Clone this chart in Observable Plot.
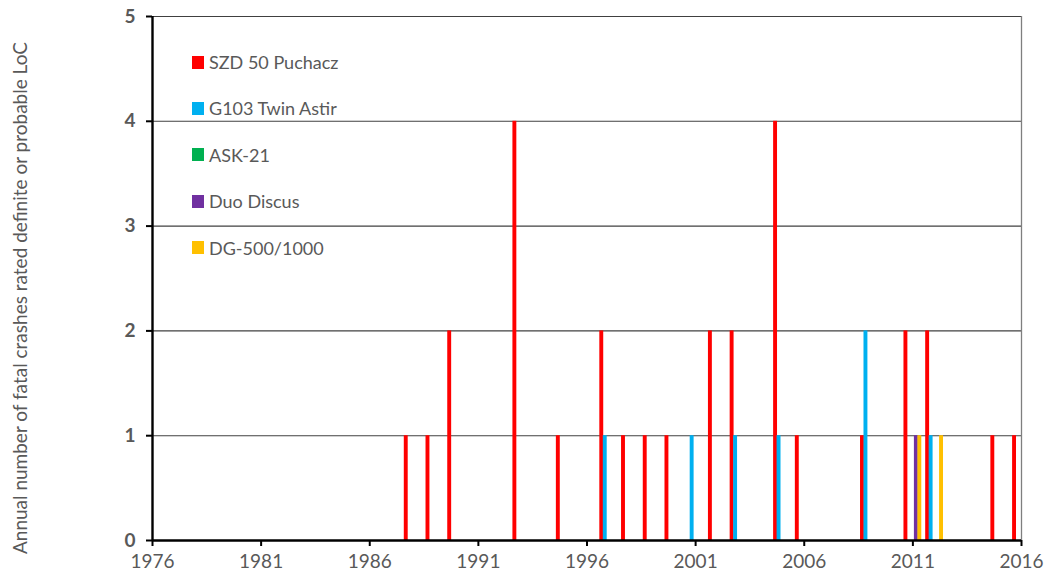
<!DOCTYPE html>
<html>
<head>
<meta charset="utf-8">
<script src="https://cdn.jsdelivr.net/npm/d3@7"></script>
<script src="https://cdn.jsdelivr.net/npm/@observablehq/plot@0.6"></script>
<style>
  html, body { margin: 0; padding: 0; background: #fff; }
  #wrap { position: relative; width: 1045px; height: 579px; font-family: Lato, "Open Sans", sans-serif; }
  #legend { position: absolute; left: 192px; top: 52px; color: #595959; font-size: 18px; }
  .item { position: absolute; left: 0; white-space: nowrap; display: flex; align-items: center; height: 20px; }
  .sw { width: 12px; height: 13px; margin-right: 5px; }
  #ytitle { position: absolute; left: 19px; top: 298px; transform: translate(-50%, -50%) rotate(-90deg); white-space: nowrap; color: #595959; font-size: 19px; }
</style>
</head>
<body>
<div id="wrap">
  <div id="chart"></div>
  <div id="legend"></div>
  <div id="ytitle"></div>
</div>
<script>
const seriesNames = ["SZD 50 Puchacz", "G103 Twin Astir", "ASK-21", "Duo Discus", "DG-500/1000"];
const seriesColors = ["#FF0000", "#00B0F0", "#00B050", "#7030A0", "#FFC000"];

const puchaczYears  = [1988, 1989, 1990, 1993, 1995, 1997, 1998, 1999, 2000, 2002, 2003, 2005, 2006, 2009, 2011, 2012, 2015, 2016];
const puchaczCounts = [1, 1, 2, 4, 1, 2, 1, 1, 1, 2, 2, 4, 1, 1, 2, 2, 1, 1];
const twinAstirYears  = [1997, 2001, 2003, 2005, 2009, 2012];
const twinAstirCounts = [1, 1, 1, 1, 2, 1];
const ask21Years  = [];
const ask21Counts = [];
const duoDiscusYears  = [2011];
const duoDiscusCounts = [1];
const dg500Years  = [2011, 2012];
const dg500Counts = [1, 1];

const xTicks = [1976, 1981, 1986, 1991, 1996, 2001, 2006, 2011, 2016];
const yTicks = [0, 1, 2, 3, 4, 5];
const yTitle = "Annual number of fatal crashes rated definite or probable LoC";

const seriesYears = [puchaczYears, twinAstirYears, ask21Years, duoDiscusYears, dg500Years];
const seriesCounts = [puchaczCounts, twinAstirCounts, ask21Counts, duoDiscusCounts, dg500Counts];

const bars = [];
seriesYears.forEach((ys, i) => ys.forEach((y, j) => bars.push({series: seriesNames[i], idx: i, year: y, count: seriesCounts[i][j]})));

const slot = 0.16;
const barW = 0.18;
const chart = Plot.plot({
  width: 1045,
  height: 579,
  marginLeft: 152,
  marginRight: 24,
  marginTop: 16,
  marginBottom: 39,
  style: {fontFamily: "Lato, 'Open Sans', sans-serif", background: "#fff"},
  x: {domain: [1976, 2016]},
  y: {domain: [0, 5]},
  color: {domain: seriesNames, range: seriesColors},
  marks: [
    Plot.ruleY(yTicks.filter(d => d > 0), {stroke: "#404040", strokeWidth: 1.1}),
    Plot.ruleX([2016], {stroke: "#7f7f7f", strokeWidth: 1.3}),
    Plot.rectY(bars, {
      x1: d => d.year + (d.idx - 2) * slot - barW / 2,
      x2: d => d.year + (d.idx - 2) * slot + barW / 2,
      y: "count",
      fill: "series",
      insetLeft: 0, insetRight: 0
    }),
    Plot.ruleY([0], {stroke: "#000", strokeWidth: 2.4}),
    Plot.ruleX([1976], {stroke: "#000", strokeWidth: 2.4}),
    Plot.axisX({ticks: xTicks, tickFormat: d => String(d), tickSize: 6, tickPadding: 8, stroke: "#000", strokeWidth: 2, fill: "#595959", fontSize: 19, label: null}),
    Plot.axisY({ticks: yTicks, tickFormat: d => String(d), tickSize: 6, tickPadding: 11, stroke: "#000", strokeWidth: 2, fill: "#595959", fontSize: 19, fontWeight: "bold", label: null})
  ]
});
document.getElementById("chart").appendChild(chart);

const legend = document.getElementById("legend");
seriesNames.forEach((name, i) => {
  const it = document.createElement("div");
  it.className = "item";
  it.style.top = (i * 46.4) + "px";
  const sw = document.createElement("div");
  sw.className = "sw";
  sw.style.background = seriesColors[i];
  const tx = document.createElement("span");
  tx.textContent = name;
  it.appendChild(sw);
  it.appendChild(tx);
  legend.appendChild(it);
});
document.getElementById("ytitle").textContent = yTitle;
</script>
</body>
</html>
